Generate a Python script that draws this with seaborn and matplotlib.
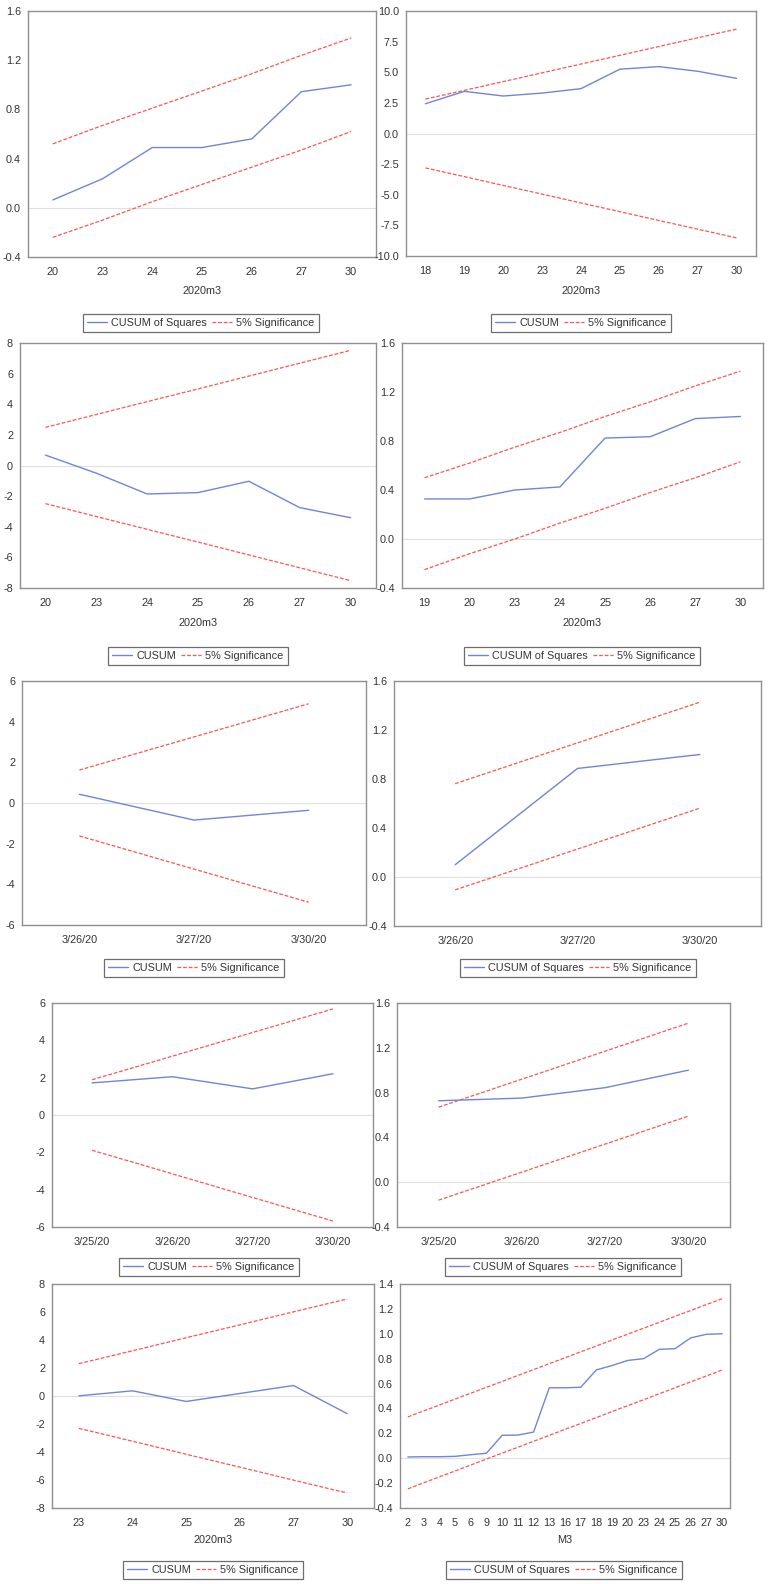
import numpy as np
import pandas as pd
import seaborn as sns
import matplotlib.pyplot as plt
from matplotlib.lines import Line2D
from matplotlib.ticker import FixedLocator, MultipleLocator, FormatStrFormatter, NullFormatter

# --- Data (EViews CUSUM / CUSUM of Squares tests) ---

# Panel 1: CUSUM of Squares, 2020m3
p1_dates = ["20", "23", "24", "25", "26", "27", "30"]
p1_stat = [0.064, 0.236, 0.49, 0.49, 0.56, 0.944, 1.0]
p1_upper = [0.52, 0.67, 0.81, 0.95, 1.09, 1.24, 1.38]
p1_lower = [-0.24, -0.10, 0.05, 0.19, 0.33, 0.47, 0.62]

# Panel 2: CUSUM, 2020m3
p2_dates = ["18", "19", "20", "23", "24", "25", "26", "27", "30"]
p2_stat = [2.43, 3.44, 3.06, 3.30, 3.66, 5.25, 5.46, 5.08, 4.50]
p2_upper = [2.81, 3.52, 4.24, 4.95, 5.67, 6.38, 7.10, 7.81, 8.52]
p2_lower = [-2.81, -3.52, -4.24, -4.95, -5.67, -6.38, -7.10, -7.81, -8.52]

# Panel 3: CUSUM, 2020m3
p3_dates = ["20", "23", "24", "25", "26", "27", "30"]
p3_stat = [0.68, -0.50, -1.86, -1.77, -1.03, -2.75, -3.41]
p3_upper = [2.49, 3.33, 4.17, 5.00, 5.84, 6.68, 7.52]
p3_lower = [-2.49, -3.33, -4.17, -5.00, -5.84, -6.68, -7.52]

# Panel 4: CUSUM of Squares, 2020m3
p4_dates = ["19", "20", "23", "24", "25", "26", "27", "30"]
p4_stat = [0.327, 0.327, 0.40, 0.425, 0.824, 0.835, 0.983, 1.0]
p4_upper = [0.50, 0.62, 0.75, 0.87, 1.00, 1.12, 1.25, 1.37]
p4_lower = [-0.25, -0.12, 0.00, 0.13, 0.25, 0.38, 0.50, 0.63]

# Panel 5: CUSUM, daily
p5_dates = ["3/26/20", "3/27/20", "3/30/20"]
p5_stat = [0.43, -0.84, -0.36]
p5_upper = [1.62, 3.25, 4.88]
p5_lower = [-1.62, -3.25, -4.88]

# Panel 6: CUSUM of Squares, daily
p6_dates = ["3/26/20", "3/27/20", "3/30/20"]
p6_stat = [0.10, 0.886, 1.0]
p6_upper = [0.762, 1.095, 1.427]
p6_lower = [-0.105, 0.228, 0.562]

# Panel 7: CUSUM, daily
p7_dates = ["3/25/20", "3/26/20", "3/27/20", "3/30/20"]
p7_stat = [1.72, 2.05, 1.40, 2.21]
p7_upper = [1.89, 3.15, 4.42, 5.68]
p7_lower = [-1.89, -3.15, -4.42, -5.68]

# Panel 8: CUSUM of Squares, daily
p8_dates = ["3/25/20", "3/26/20", "3/27/20", "3/30/20"]
p8_stat = [0.727, 0.751, 0.844, 1.0]
p8_upper = [0.67, 0.92, 1.17, 1.42]
p8_lower = [-0.16, 0.09, 0.34, 0.59]

# Panel 9: CUSUM, 2020m3
p9_dates = ["23", "24", "25", "26", "27", "30"]
p9_stat = [0.01, 0.37, -0.39, 0.18, 0.75, -1.26]
p9_upper = [2.31, 3.23, 4.16, 5.08, 6.01, 6.93]
p9_lower = [-2.31, -3.23, -4.16, -5.08, -6.01, -6.93]

# Panel 10: CUSUM of Squares, M3
p10_dates = ["2", "3", "4", "5", "6", "9", "10", "11", "12", "13", "16",
             "17", "18", "19", "20", "23", "24", "25", "26", "27", "30"]
p10_stat = [0.010, 0.012, 0.012, 0.015, 0.028, 0.040, 0.184, 0.186, 0.210, 0.566, 0.566,
            0.570, 0.710, 0.745, 0.786, 0.800, 0.875, 0.880, 0.967, 0.996, 1.0]
p10_upper = [0.332, 0.380, 0.427, 0.475, 0.522, 0.570, 0.617, 0.665, 0.712, 0.760, 0.807,
             0.855, 0.902, 0.950, 0.997, 1.045, 1.092, 1.140, 1.187, 1.235, 1.282]
p10_lower = [-0.246, -0.198, -0.150, -0.103, -0.055, -0.007, 0.041, 0.088, 0.136, 0.184, 0.232,
             0.279, 0.327, 0.375, 0.423, 0.470, 0.518, 0.566, 0.614, 0.661, 0.709]

BLUE = "#7384d6"
RED = "#ff5252"
FRAME = "#8f8f8f"
TXT = "#333333"
FS = 7.8
W, H = 768, 1584

sns.set_style("white")
plt.rcParams["font.family"] = ["Liberation Sans", "DejaVu Sans"]
plt.rcParams["axes.unicode_minus"] = False

fig = plt.figure(figsize=(W / 100, H / 100), dpi=100)

# (dates, stat, upper, lower, label, box px (l, t, r, b), ylim, ystep, fmt, xlabel, xlabel_y, legend (cx, cy))
panels = [
    (p1_dates, p1_stat, p1_upper, p1_lower, "CUSUM of Squares", (28, 11, 376, 257),
     (-0.4, 1.6), 0.4, "%.1f", "2020m3", 291, (201, 323)),
    (p2_dates, p2_stat, p2_upper, p2_lower, "CUSUM", (406, 11, 756, 256),
     (-10, 10), 2.5, "%.1f", "2020m3", 291, (581, 323)),
    (p3_dates, p3_stat, p3_upper, p3_lower, "CUSUM", (20, 343, 376, 588),
     (-8, 8), 2, "%d", "2020m3", 623, (198, 656)),
    (p4_dates, p4_stat, p4_upper, p4_lower, "CUSUM of Squares", (402, 343, 763, 588),
     (-0.4, 1.6), 0.4, "%.1f", "2020m3", 623, (582, 656)),
    (p5_dates, p5_stat, p5_upper, p5_lower, "CUSUM", (22, 681, 366, 925),
     (-6, 6), 2, "%d", None, None, (194, 968)),
    (p6_dates, p6_stat, p6_upper, p6_lower, "CUSUM of Squares", (394, 681, 761, 926),
     (-0.4, 1.6), 0.4, "%.1f", None, None, (578, 968)),
    (p7_dates, p7_stat, p7_upper, p7_lower, "CUSUM", (52, 1003, 373, 1227),
     (-6, 6), 2, "%d", None, None, (209, 1267)),
    (p8_dates, p8_stat, p8_upper, p8_lower, "CUSUM of Squares", (397, 1003, 730, 1227),
     (-0.4, 1.6), 0.4, "%.1f", None, None, (563, 1267)),
    (p9_dates, p9_stat, p9_upper, p9_lower, "CUSUM", (52, 1284, 374, 1508),
     (-8, 8), 2, "%d", "2020m3", 1540, (213, 1570)),
    (p10_dates, p10_stat, p10_upper, p10_lower, "CUSUM of Squares", (400, 1284, 730, 1508),
     (-0.4, 1.4), 0.2, "%.1f", "M3", 1540, (564, 1570)),
]

for dates, stat, upper, lower, label, box, ylim, ystep, fmt, xlabel, xl_y, leg in panels:
    l, t, r, b = box
    ax = fig.add_axes([l / W, 1 - b / H, (r - l) / W, (b - t) / H])
    df = pd.DataFrame({"date": dates, "stat": stat, "upper": upper, "lower": lower})
    n = len(dates)

    ax.axhline(0, color="#e0e0e0", lw=0.8, zorder=1)
    sns.lineplot(data=df, x="date", y="stat", sort=False, color=BLUE, lw=1.0, ax=ax, zorder=3)
    sns.lineplot(data=df, x="date", y="upper", sort=False, color=RED, lw=0.9, ax=ax, zorder=2)
    sns.lineplot(data=df, x="date", y="lower", sort=False, color=RED, lw=0.9, ax=ax, zorder=2)
    for line in ax.lines[-2:]:
        line.set_dashes((3, 1.5))

    ax.set_xlim(-0.5, n - 0.5)
    ax.set_ylim(*ylim)
    ax.set_xlabel("")
    ax.set_ylabel("")

    # EViews style: labels centred, tick marks on the category boundaries
    ax.xaxis.set_major_locator(FixedLocator(np.arange(n)))
    ax.set_xticklabels(dates)
    ax.xaxis.set_minor_locator(FixedLocator(np.arange(n + 1) - 0.5))
    ax.xaxis.set_minor_formatter(NullFormatter())
    ax.tick_params(axis="x", which="major", length=0, pad=7, labelsize=FS, labelcolor=TXT)
    ax.tick_params(axis="x", which="minor", length=4, width=0.8, color=FRAME, direction="out")
    ax.yaxis.set_major_locator(MultipleLocator(ystep))
    ax.yaxis.set_major_formatter(FormatStrFormatter(fmt))
    ax.tick_params(axis="y", length=3.5, width=0.8, color=FRAME, direction="out",
                   pad=1.5, labelsize=FS, labelcolor=TXT)
    ax.grid(False)

    for s in ax.spines.values():
        s.set_visible(True)
        s.set_color(FRAME)
        s.set_linewidth(1.0)

    cx = (l + r) / 2
    if xlabel:
        fig.text(cx / W, 1 - xl_y / H, xlabel, ha="center", va="center",
                 fontsize=FS, color=TXT)

    handles = [Line2D([], [], color=BLUE, lw=1.0),
               Line2D([], [], color=RED, lw=0.9, dashes=(3, 1.5))]
    lg = fig.legend(handles, [label, "5% Significance"], ncol=2, loc="center",
                    bbox_to_anchor=(leg[0] / W, 1 - leg[1] / H), fontsize=FS,
                    frameon=True, fancybox=False, framealpha=1, edgecolor="#6e6e6e",
                    handlelength=1.8, handletextpad=0.4, columnspacing=0.5,
                    borderpad=0.4, borderaxespad=0)
    lg.get_frame().set_linewidth(0.9)
    for txt in lg.get_texts():
        txt.set_color(TXT)

fig.savefig("out.png", dpi=100)
plt.close(fig)
